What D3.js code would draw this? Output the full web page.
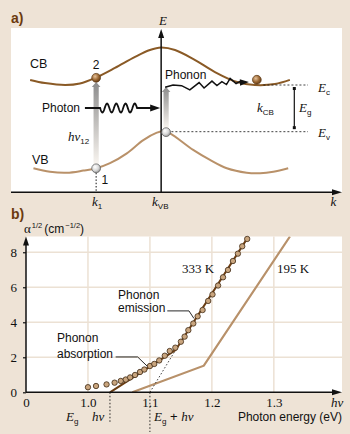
<!DOCTYPE html>
<html>
<head>
<meta charset="utf-8">
<script src="https://cdn.jsdelivr.net/npm/d3@7"></script>
<style>
  html, body { margin: 0; padding: 0; background: #eee3d6; }
  svg { display: block; }
</style>
</head>
<body>
<svg id="chart" width="350" height="434" font-family="Liberation Sans, Arial, sans-serif"></svg>
<script>
// ---- panel b data: absorption edge, alpha^1/2 vs photon energy ----
const point_energy = [1.000, 1.013, 1.030, 1.043, 1.053, 1.061, 1.068, 1.076, 1.084, 1.091, 1.100,
    1.107, 1.115, 1.124, 1.132, 1.141, 1.150, 1.156, 1.162, 1.170, 1.177, 1.185, 1.194, 1.201,
    1.210, 1.218, 1.226, 1.234, 1.242, 1.249, 1.257];
const point_alpha = [0.29, 0.36, 0.45, 0.55, 0.65, 0.73, 0.85, 0.99, 1.16, 1.30, 1.50,
    1.62, 1.82, 2.09, 2.36, 2.55, 2.89, 3.18, 3.55, 3.93, 4.34, 4.70, 5.22, 5.59,
    6.10, 6.57, 6.99, 7.50, 7.92, 8.34, 8.76];
const fit_333_energy = [1.0355, 1.1415, 1.2576];
const fit_333_alpha = [0, 2.42, 8.82];
const fit_195_energy = [1.0716, 1.187, 1.326];
const fit_195_alpha = [0, 1.52, 8.9];
const extrap_energy = [1.100, 1.1415];
const extrap_alpha = [0, 2.42];
const onset_absorption = 1.0355;
const onset_emission = 1.100;
const x_ticks = [0.9, 1.0, 1.1, 1.2, 1.3];
const x_tick_labels = ['0', '1.0', '1.1', '1.2', '1.3'];
const y_ticks = [0, 2, 4, 6, 8];
const grid_x = [1.0, 1.1, 1.2, 1.3];
const grid_y = [2, 4, 6, 8];

// ---- panel a data: schematic band diagram (k, E in arbitrary units 0..10) ----
const cb_k = [0.58, 1.03, 1.64, 2.09, 2.58, 3.15, 3.76, 4.21, 4.55, 4.97, 5.58, 6.18, 6.85, 7.39, 8.00, 8.45];
const cb_e = [6.84, 6.65, 6.53, 6.62, 6.99, 7.57, 8.24, 8.66, 8.81, 8.66, 8.05, 7.32, 6.71, 6.53, 6.59, 6.84];
const vb_k = [0.68, 1.18, 1.69, 2.19, 2.58, 3.00, 3.51, 4.01, 4.42, 4.62, 4.82, 5.52, 6.03, 6.54, 7.14, 7.55, 7.95, 8.40];
const vb_e = [1.46, 1.25, 1.19, 1.32, 1.46, 1.77, 2.37, 3.18, 3.63, 3.73, 3.59, 2.58, 1.97, 1.46, 1.19, 1.16, 1.25, 1.46];
const phonon_k = [4.67, 4.91, 5.17, 5.42, 5.70, 5.85, 6.09, 6.24, 6.39, 6.53, 6.64, 6.82, 7.21];
const phonon_e = [6.39, 6.53, 6.49, 6.23, 6.68, 6.35, 6.77, 6.50, 6.74, 6.56, 6.93, 6.62, 6.71];
const k_1 = 2.58;
const k_vb = 4.55;
const e_c = 6.53;
const e_v = 3.69;
const electron_k = [2.58, 7.45];
const electron_e = [6.97, 6.85];
const hole_k = [2.58, 4.70];
const hole_e = [1.46, 3.66];
const excite_k = [2.58, 4.70];
const excite_from = [1.72, 3.91];
const excite_to = [6.71, 6.41];

(() => {

    const svg = d3.select('#chart');
    const defs = svg.append('defs');

    const ink = '#111';
    const serif = 'Liberation Serif, Times New Roman, serif';
    const cb_color = '#8a5a26';
    const vb_color = '#b99169';
    const hot_color = '#6b3d12';
    const cold_color = '#b8916a';
    const grid_color = '#ece1d4';
    const label_color = '#6b3a0f';

    // gradients
    let g1 = defs.append('linearGradient').attr('id', 'excite')
        .attr('x1', 0).attr('y1', 1).attr('x2', 0).attr('y2', 0);
    g1.append('stop').attr('offset', 0).attr('stop-color', '#f8f4ef');
    g1.append('stop').attr('offset', 1).attr('stop-color', '#8c8c8c');

    let g2 = defs.append('radialGradient').attr('id', 'electron')
        .attr('cx', '38%').attr('cy', '35%').attr('r', '65%');
    g2.append('stop').attr('offset', 0).attr('stop-color', '#e6c29a');
    g2.append('stop').attr('offset', 0.6).attr('stop-color', '#9c6935');
    g2.append('stop').attr('offset', 1).attr('stop-color', '#6a4018');

    let g3 = defs.append('radialGradient').attr('id', 'hole')
        .attr('cx', '38%').attr('cy', '35%').attr('r', '65%');
    g3.append('stop').attr('offset', 0).attr('stop-color', '#ffffff');
    g3.append('stop').attr('offset', 0.6).attr('stop-color', '#d9d9d9');
    g3.append('stop').attr('offset', 1).attr('stop-color', '#999');

    // arrowhead helper: tip at (x, y), pointing in direction (dx, dy)
    function arrow_head(parent, x, y, dx, dy, len, half) {
        let n = Math.hypot(dx, dy); dx /= n; dy /= n;
        let bx = x - dx * len, by = y - dy * len;
        parent.append('path')
            .attr('d', `M${x},${y}L${bx - dy * half},${by + dx * half}L${bx + dy * half},${by - dx * half}Z`)
            .attr('fill', ink);
    }

    // ======================= panel a =======================
    let k_scale = d3.scaleLinear().domain([0, 10]).range([11, 341]);
    let e_scale = d3.scaleLinear().domain([0, 10]).range([192.3, 28]);

    let pa = svg.append('g');
    pa.append('rect')
        .attr('x', k_scale(0)).attr('y', e_scale(10))
        .attr('width', k_scale(10) - k_scale(0) + 1)
        .attr('height', e_scale(0) - e_scale(10))
        .attr('fill', '#fff');

    let band = d3.line()
        .x((d) => k_scale(d[0]))
        .y((d) => e_scale(d[1]))
        .curve(d3.curveCatmullRom);

    pa.append('path').attr('d', band(d3.zip(cb_k, cb_e)))
        .attr('fill', 'none').attr('stroke', cb_color).attr('stroke-width', 2);
    pa.append('path').attr('d', band(d3.zip(vb_k, vb_e)))
        .attr('fill', 'none').attr('stroke', vb_color).attr('stroke-width', 2);

    // band edge levels
    pa.append('line')
        .attr('x1', k_scale(7.65)).attr('x2', k_scale(9.0))
        .attr('y1', e_scale(e_c)).attr('y2', e_scale(e_c))
        .attr('stroke', ink).attr('stroke-width', 0.8).attr('stroke-dasharray', '2,2');
    pa.append('line')
        .attr('x1', k_scale(4.86)).attr('x2', k_scale(9.0))
        .attr('y1', e_scale(e_v)).attr('y2', e_scale(e_v))
        .attr('stroke', ink).attr('stroke-width', 0.8).attr('stroke-dasharray', '2,2');

    // Eg bracket
    let bx = k_scale(8.585);
    pa.append('line')
        .attr('x1', bx).attr('x2', bx)
        .attr('y1', e_scale(e_c) + 3.5).attr('y2', e_scale(e_v) - 4)
        .attr('stroke', ink).attr('stroke-width', 1.2);
    [e_scale(e_c) + 3.5, e_scale(e_v) - 4].forEach((y) => {
        pa.append('rect').attr('x', bx - 1.5).attr('y', y - 1.5)
            .attr('width', 3).attr('height', 3).attr('fill', ink);
    });

    // dotted drop from hole 1 to the k axis
    pa.append('line')
        .attr('x1', k_scale(k_1)).attr('x2', k_scale(k_1))
        .attr('y1', e_scale(hole_e[0]) + 4.5).attr('y2', e_scale(0))
        .attr('stroke', ink).attr('stroke-width', 1).attr('stroke-dasharray', '1.5,1.8');

    // excitation arrows (gradient)
    excite_k.forEach((k, i) => {
        let x = k_scale(k), yb = e_scale(excite_from[i]), yt = e_scale(excite_to[i]);
        pa.append('path')
            .attr('d', `M${x - 2.6},${yb}L${x - 2.6},${yt + 5}L${x - 4.3},${yt + 5}L${x},${yt}` +
                `L${x + 4.3},${yt + 5}L${x + 2.6},${yt + 5}L${x + 2.6},${yb}Z`)
            .attr('fill', 'url(#excite)');
    });

    // axes
    let ax_x = k_scale(k_vb);
    pa.append('line').attr('x1', ax_x).attr('x2', ax_x)
        .attr('y1', e_scale(0)).attr('y2', 36)
        .attr('stroke', ink).attr('stroke-width', 1.5);
    arrow_head(pa, ax_x, 29, 0, -1, 9, 3);
    pa.append('line').attr('x1', k_scale(0)).attr('x2', 333)
        .attr('y1', e_scale(0)).attr('y2', e_scale(0))
        .attr('stroke', ink).attr('stroke-width', 1.5);
    arrow_head(pa, 342, e_scale(0), 1, 0, 10, 3);

    // photon: straight - wave - straight - arrow
    let py = e_scale(5.13);
    let w0 = k_scale(2.70), w1 = k_scale(3.82);
    let wave = [[k_scale(2.24), py], [w0, py]];
    for (let x = w0; x <= w1; x += 0.5) {
        wave.push([x, py + 4.5 * Math.sin((x - w0) / (w1 - w0) * 4 * Math.PI * 2)]);
    }
    wave.push([w1, py], [k_scale(4.52) - 8, py]);
    pa.append('path').attr('d', d3.line()(wave))
        .attr('fill', 'none').attr('stroke', ink).attr('stroke-width', 1.8);
    arrow_head(pa, k_scale(4.52), py, 1, 0, 10, 3.5);

    // phonon zigzag
    let ph = d3.zip(phonon_k, phonon_e);
    pa.append('path')
        .attr('d', d3.line().x((d) => k_scale(d[0])).y((d) => e_scale(d[1]))(ph.slice(0, -1).concat([[phonon_k[12] - 0.25, phonon_e[12] + 0.05]])))
        .attr('fill', 'none').attr('stroke', ink).attr('stroke-width', 1.5).attr('stroke-linejoin', 'miter');
    arrow_head(pa, k_scale(phonon_k[12]), e_scale(phonon_e[12]),
        1, -0.05, 9, 3.2);

    // carriers
    electron_k.forEach((k, i) => {
        pa.append('circle').attr('cx', k_scale(k)).attr('cy', e_scale(electron_e[i])).attr('r', 4.4)
            .attr('fill', 'url(#electron)').attr('stroke', '#5a3816').attr('stroke-width', 0.7);
    });
    hole_k.forEach((k, i) => {
        pa.append('circle').attr('cx', k_scale(k)).attr('cy', e_scale(hole_e[i])).attr('r', 4.4)
            .attr('fill', 'url(#hole)').attr('stroke', '#666').attr('stroke-width', 0.8);
    });

    // panel a labels
    let txt = (p, x, y, s, size, extra) => {
        let t = p.append('text').attr('x', x).attr('y', y).attr('font-size', size || 12).attr('fill', ink).text(s);
        if (extra) extra(t);
        return t;
    };
    let ital = (p, x, y, main, sub, size) => {
        let t = p.append('text').attr('x', x).attr('y', y).attr('fill', ink)
            .attr('font-size', size || 13);
        t.append('tspan').attr('font-family', serif).attr('font-style', 'italic').text(main);
        if (sub) t.append('tspan').attr('font-size', (size || 13) * 0.62).attr('dy', 3).text(sub);
        return t;
    };

    svg.append('text').attr('x', 11).attr('y', 22.5).attr('font-size', 14).attr('font-weight', 'bold')
        .attr('fill', label_color).text('a)');
    svg.append('text').attr('x', 11).attr('y', 219).attr('font-size', 14).attr('font-weight', 'bold')
        .attr('fill', label_color).text('b)');

    txt(pa, 30, 68, 'CB', 12.5);
    txt(pa, 32, 164, 'VB', 12.5);
    txt(pa, k_scale(k_1), 69, '2', 12, (t) => t.attr('text-anchor', 'middle'));
    txt(pa, 101.5, 183.5, '1', 12);
    txt(pa, 80, 112, 'Photon', 12, (t) => t.attr('text-anchor', 'end'));
    txt(pa, 165, 79, 'Phonon', 12);
    ital(pa, 68, 141, 'hν', '12', 13);
    ital(pa, 257, 112, 'k', 'CB', 13);
    ital(pa, 299, 112, 'E', 'g', 13);
    ital(pa, 318, 92, 'E', 'c', 13);
    ital(pa, 318, 137, 'E', 'v', 13);
    ital(pa, 159, 25, 'E', null, 13);
    ital(pa, 92, 206, 'k', '1', 13);
    ital(pa, 152, 206, 'k', 'VB', 13);
    ital(pa, 330.5, 206, 'k', null, 13);

    // ======================= panel b =======================
    let x_scale = d3.scaleLinear().domain([0.9, 1.41]).range([26, 342]);
    let y_scale = d3.scaleLinear().domain([0, 8.9]).range([392.3, 236.5]);

    let pb = svg.append('g');
    pb.append('rect')
        .attr('x', x_scale(0.9)).attr('y', y_scale(8.9))
        .attr('width', x_scale(1.41) - x_scale(0.9))
        .attr('height', y_scale(0) - y_scale(8.9))
        .attr('fill', '#fff');

    // grid
    pb.selectAll('.gx').data(grid_x).enter().append('line')
        .attr('x1', (d) => x_scale(d)).attr('x2', (d) => x_scale(d))
        .attr('y1', y_scale(0)).attr('y2', y_scale(8.9))
        .attr('stroke', grid_color).attr('stroke-width', 1.5);
    pb.selectAll('.gy').data(grid_y).enter().append('line')
        .attr('x1', x_scale(0.9)).attr('x2', x_scale(1.41))
        .attr('y1', (d) => y_scale(d)).attr('y2', (d) => y_scale(d))
        .attr('stroke', grid_color).attr('stroke-width', 1.5);

    let curve = d3.line().x((d) => x_scale(d[0])).y((d) => y_scale(d[1]));

    pb.append('clipPath').attr('id', 'plot_clip').append('rect')
        .attr('x', x_scale(0.9)).attr('y', y_scale(8.9))
        .attr('width', x_scale(1.41) - x_scale(0.9)).attr('height', y_scale(0) - y_scale(8.9) + 1);

    pb.append('path').attr('d', curve(d3.zip(fit_195_energy, fit_195_alpha)))
        .attr('clip-path', 'url(#plot_clip)')
        .attr('fill', 'none').attr('stroke', cold_color).attr('stroke-width', 2.2);
    pb.append('path').attr('d', curve(d3.zip(extrap_energy, extrap_alpha)))
        .attr('fill', 'none').attr('stroke', ink).attr('stroke-width', 0.8).attr('stroke-dasharray', '1.5,2');
    pb.append('path').attr('d', curve(d3.zip(fit_333_energy, fit_333_alpha)))
        .attr('fill', 'none').attr('stroke', hot_color).attr('stroke-width', 2);

    // dotted onset markers below the axis
    pb.append('line').attr('x1', x_scale(onset_absorption)).attr('x2', x_scale(onset_absorption))
        .attr('y1', y_scale(0)).attr('y2', 422)
        .attr('stroke', ink).attr('stroke-width', 0.9).attr('stroke-dasharray', '1.5,2');
    pb.append('line').attr('x1', x_scale(onset_emission)).attr('x2', x_scale(onset_emission))
        .attr('y1', y_scale(0)).attr('y2', 432)
        .attr('stroke', ink).attr('stroke-width', 0.9).attr('stroke-dasharray', '1.5,2');

    // leader lines
    pb.append('path').attr('d', curve([[1.0447, 2.02], [1.0802, 2.02], [1.0963, 1.47]]))
        .attr('fill', 'none').attr('stroke', ink).attr('stroke-width', 0.9);
    pb.append('path').attr('d', curve([[1.128, 4.65], [1.163, 4.65], [1.171, 4.22]]))
        .attr('fill', 'none').attr('stroke', ink).attr('stroke-width', 0.9);

    // measured points
    pb.selectAll('.pt').data(d3.zip(point_energy, point_alpha)).enter().append('circle')
        .attr('cx', (d) => x_scale(d[0])).attr('cy', (d) => y_scale(d[1]))
        .attr('r', 2.7)
        .attr('fill', '#c9a57e').attr('stroke', '#3f2a14').attr('stroke-width', 0.8);

    // axes
    let y_axis = d3.axisLeft(y_scale).tickValues(y_ticks).tickSize(3).tickPadding(6);
    let gya = pb.append('g').attr('transform', `translate(${x_scale(0.9)},0)`).call(y_axis);
    gya.attr('font-family', serif).attr('font-size', 13);
    gya.select('.domain').remove();
    gya.selectAll('line').attr('stroke', ink).attr('stroke-width', 1.2);
    gya.selectAll('text').attr('fill', ink);

    let x_axis = d3.axisBottom(x_scale).tickValues(x_ticks)
        .tickFormat((d, i) => x_tick_labels[i]).tickSize(0).tickPadding(5);
    let gxa = pb.append('g').attr('transform', `translate(0,${y_scale(0)})`).call(x_axis);
    gxa.attr('font-family', serif).attr('font-size', 13);
    gxa.select('.domain').remove();
    gxa.selectAll('text').attr('fill', ink);

    pb.append('line').attr('x1', x_scale(0.9)).attr('x2', x_scale(0.9))
        .attr('y1', y_scale(0)).attr('y2', 245)
        .attr('stroke', ink).attr('stroke-width', 1.5);
    arrow_head(pb, x_scale(0.9), 236.5, 0, -1, 9, 3);
    pb.append('line').attr('x1', x_scale(0.9)).attr('x2', 333)
        .attr('y1', y_scale(0)).attr('y2', y_scale(0))
        .attr('stroke', ink).attr('stroke-width', 1.5);
    arrow_head(pb, 342, y_scale(0), 1, 0, 10, 3);

    // panel b labels
    let yl = pb.append('text').attr('x', 24).attr('y', 233).attr('font-size', 12).attr('fill', ink);
    yl.append('tspan').attr('font-family', serif).attr('font-size', 13).text('α');
    yl.append('tspan').attr('font-size', 7.5).attr('dy', -5).attr('dx', 1).text('1/2');
    yl.append('tspan').attr('dy', 5).attr('dx', 2).text('(cm');
    yl.append('tspan').attr('font-size', 7.5).attr('dy', -5).attr('dx', 1).text('−1/2');
    yl.append('tspan').attr('dy', 5).text(')');

    txt(pb, 57, 341.5, 'Phonon', 12);
    txt(pb, 57, 358, 'absorption', 12);
    txt(pb, 118, 299, 'Phonon', 12);
    txt(pb, 118, 312, 'emission', 12);
    pb.append('text').attr('x', 182).attr('y', 272.5).attr('font-size', 13)
        .attr('font-family', serif).attr('fill', ink).text('333 K');
    pb.append('text').attr('x', 277).attr('y', 272.5).attr('font-size', 13)
        .attr('font-family', serif).attr('fill', ink).text('195 K');

    ital(pb, 331, 406.5, 'hν', null, 13);
    txt(pb, 342, 420.5, 'Photon energy (eV)', 12, (t) => t.attr('text-anchor', 'end'));
    ital(pb, 66, 421, 'E', 'g', 13);
    ital(pb, 92, 421, 'hν', null, 13);
    let eg = ital(pb, 154, 421, 'E', 'g', 13);
    eg.append('tspan').attr('dy', -3).text(' + ');
    eg.append('tspan').attr('font-family', serif).attr('font-style', 'italic').text('hν');

})();
</script>
</body>
</html>
